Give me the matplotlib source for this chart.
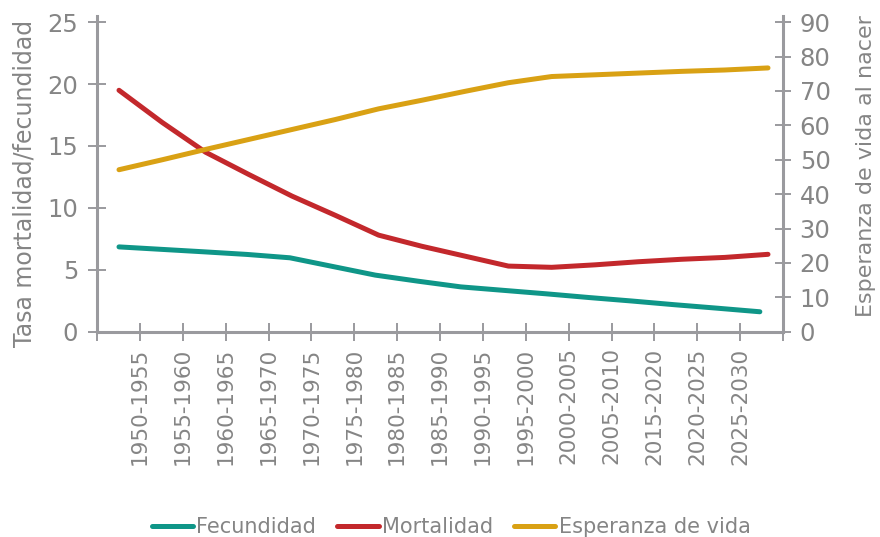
import numpy as np
import matplotlib
matplotlib.use("Agg")
import matplotlib.pyplot as plt
from matplotlib.lines import Line2D

plt.rcParams['font.family'] = ['DejaVu Sans']

# ---- data ----
periods = ["1950-1955", "1955-1960", "1960-1965", "1965-1970", "1970-1975",
           "1975-1980", "1980-1985", "1985-1990", "1990-1995", "1995-2000",
           "2000-2005", "2005-2010", "2015-2020", "2020-2025", "2025-2030"]

fecundidad = [6.85, 6.65, 6.45, 6.24, 5.97, 5.27, 4.57, 4.08, 3.62, 3.34,
              3.06, 2.76, 2.48, 2.18, 1.90, 1.61]
mortalidad = [19.5, 16.9, 14.5, 12.7, 10.95, 9.4, 7.8, 6.9, 6.1, 5.3,
              5.2, 5.4, 5.65, 5.85, 6.0, 6.25]
esperanza = [47.1, 50.0, 53.0, 55.9, 58.8, 61.7, 64.8, 67.3, 69.9, 72.4,
             74.2, 74.7, 75.2, 75.7, 76.1, 76.7]

left_ticks = [0, 5, 10, 15, 20, 25]
right_ticks = [0, 10, 20, 30, 40, 50, 60, 70, 80, 90]

# ---- style ----
C_FEC = "#0f9688"
C_MOR = "#c3282c"
C_ESP = "#d9a114"
AX_C = "#9a9a9e"
TXT_C = "#858585"

fig = plt.figure(figsize=(8.8, 5.37), dpi=100)
ax = fig.add_axes([97/880, 1-331.7/537, (783-97)/880, (331.7-16)/537])
ax2 = ax.twinx()

n = len(mortalidad)
x_main = np.linspace(0.513, 15.65, n)
x_fec = np.linspace(0.513, 15.46, len(fecundidad))

lw = 3.6
ax.plot(x_fec, fecundidad, color=C_FEC, lw=lw, solid_capstyle='round', solid_joinstyle='round', zorder=3)
ax.plot(x_main, mortalidad, color=C_MOR, lw=lw, solid_capstyle='round', solid_joinstyle='round', zorder=3)
ax2.plot(x_main, esperanza, color=C_ESP, lw=lw, solid_capstyle='round', solid_joinstyle='round', zorder=3)

ax.set_xlim(0, 16)
ax.set_ylim(0, 25.5)
ax2.set_ylim(0, 25.5 * 3.6)

ax.set_xticks(np.arange(0, 17))
ax.set_xticklabels([""] + periods + [""], rotation=90, fontsize=15.5, color=TXT_C)
ax.set_yticks(left_ticks)
ax.set_yticklabels([str(t) for t in left_ticks], fontsize=17.5, color=TXT_C)
ax2.set_yticks(right_ticks)
ax2.set_yticklabels([str(t) for t in right_ticks], fontsize=17.5, color=TXT_C)

for a in (ax, ax2):
    for s in a.spines.values():
        s.set_color(AX_C)
        s.set_linewidth(2.2)
    a.spines['top'].set_visible(False)
    a.set_facecolor('none')
ax.spines['right'].set_visible(False)
ax2.spines['left'].set_visible(False)
ax2.spines['bottom'].set_visible(False)

ax.tick_params(axis='x', direction='inout', length=12.7, width=1.4, color=AX_C, pad=5)
ax.tick_params(axis='y', direction='inout', length=13, width=1.4, color=AX_C, pad=7)
ax2.tick_params(axis='y', direction='inout', length=12, width=1.4, color=AX_C, pad=6)

ax.set_ylabel("Tasa mortalidad/fecundidad", fontsize=17, color=TXT_C)
ax.yaxis.set_label_coords(-0.0875, 0.47)
ax2.set_ylabel("Esperanza de vida al nacer", fontsize=16, color=TXT_C)
ax2.yaxis.set_label_coords(1.107, 0.525)

handles = [Line2D([], [], color=C_FEC, lw=lw, solid_capstyle='round'),
           Line2D([], [], color=C_MOR, lw=lw, solid_capstyle='round'),
           Line2D([], [], color=C_ESP, lw=lw, solid_capstyle='round')]
fig.legend(handles, ["Fecundidad", "Mortalidad", "Esperanza de vida"],
           loc='center', bbox_to_anchor=(451/880, 1-527/537), ncol=3, frameon=False,
           fontsize=15, labelcolor=TXT_C, handlelength=2.0, handletextpad=0.15,
           columnspacing=1.0)

fig.savefig("out.png", dpi=100)
